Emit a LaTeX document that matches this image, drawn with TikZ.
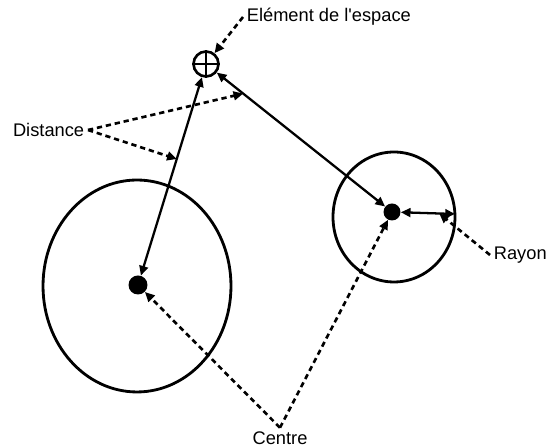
\documentclass[tikz,border=0pt]{standalone}
\usepackage{fontspec}
\setmainfont{Liberation Sans}
\usetikzlibrary{arrows.meta,calc}
\tikzset{
  tip/.tip={Triangle[length=5.5pt,width=5pt]},
  measure/.style={line width=1.3pt, tip-tip},
  pointer/.style={line width=1.5pt, dash pattern=on 3pt off 2.2pt, -tip},
  dot/.style={circle, fill, inner sep=0pt, minimum size=#1},
  tag/.style={font=\fontsize{10.4}{12.5}\selectfont, inner sep=2pt},
  zone/.style={line width=1.6pt}
}
\begin{document}
\begin{tikzpicture}[x=0.02cm,y=-0.02cm]
\useasboundingbox (0,0) rectangle (549,448);
% spheres
\draw[zone] (137,286) ellipse (1.88cm and 2.12cm);
\draw[zone] (394,217) ellipse (1.22cm and 1.3cm);
% centres and element
\node[dot=0.38cm] (c1) at (138,285) {};
\node[dot=0.34cm] (c2) at (392,212) {};
\node[circle, draw, line width=1.5pt, minimum size=0.5cm, inner sep=0pt] (elem) at (206,64) {};
\draw[line width=1.5pt] (elem.north) -- (elem.south) (elem.west) -- (elem.east);
\coordinate (r) at (455,214);
% distances and radius
\draw[measure] (c1) -- (elem);
\draw[measure] (elem) -- (c2);
\draw[measure] (c2) -- (r);
% labels
\node[tag, anchor=west] (elemtxt) at (243,17) {Elément de l\textquotesingle espace};
\node[tag, anchor=east] (dist) at (88,130) {Distance};
\node[tag, anchor=west] (rayon) at (490,255) {Rayon};
\node[tag] (centre) at (280,438) {Centre};
\draw[pointer] (elemtxt.west) -- (elem);
\draw[pointer] (dist.east) -- ($(elem)!0.2!(c2)$);
\draw[pointer] (dist.east) -- ($(c1)!0.57!(elem)$);
\draw[pointer] (rayon.west) -- ($(c2)!0.75!(r)$);
\draw[pointer] (centre.north) -- (c1);
\draw[pointer] (centre.north) -- (c2);
\end{tikzpicture}
\end{document}
